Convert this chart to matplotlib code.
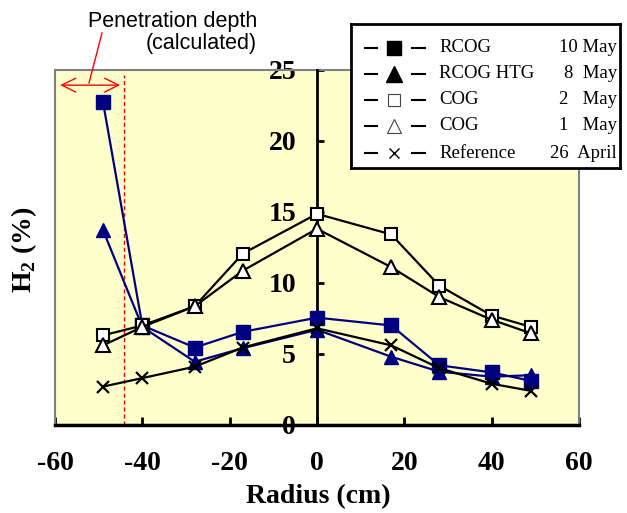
import matplotlib
matplotlib.use("Agg")
import matplotlib.pyplot as plt
from matplotlib.patches import Rectangle
from matplotlib.lines import Line2D

radius = [-49, -40, -28, -17, 0, 17, 28, 40, 49]
rcog = [22.7, 7.0, 5.45, 6.55, 7.55, 7.0, 4.2, 3.7, 3.1]
rcog_htg = [13.7, 6.9, 4.45, 5.4, 6.7, 4.8, 3.75, 3.4, 3.5]
cog_2may = [6.3, 7.0, 8.35, 12.05, 14.85, 13.4, 9.8, 7.7, 6.9]
cog_1may = [5.6, 6.9, 8.35, 10.85, 13.8, 11.1, 9.0, 7.4, 6.45]
reference = [2.7, 3.3, 4.1, 5.45, 6.8, 5.6, 4.0, 2.9, 2.4]

legend_names = ["RCOG", "RCOG HTG", "COG", "COG", "Reference"]
legend_dates = ["10 May", "8  May", "2   May", "1   May", "26  April"]
xticks = [-60, -40, -20, 0, 20, 40, 60]
yticks = [0, 5, 10, 15, 20, 25]
penetration_x = -44.2

W, H = 627, 513
fig = plt.figure(figsize=(W / 100, H / 100), dpi=100)
fig.patch.set_facecolor("white")

def fx(px):
    return px / W

def fy(py):
    return 1 - py / H

L, R, T, B = 55, 579, 69.5, 425
ax = fig.add_axes([fx(L), fy(B), fx(R) - fx(L), fy(T) - fy(B)])
ax.set_facecolor("#FFFFCC")
ax.set_xlim(-60, 60)
ax.set_ylim(0, 25)

navy = "#000080"
ax.plot(radius, rcog, color=navy, lw=1.6, marker="s", ms=9.5, mfc=navy, mec=navy, zorder=3)
ax.plot(radius, rcog_htg, color=navy, lw=1.6, marker="^", ms=10.5, mfc=navy, mec=navy, zorder=3)
ax.plot(radius, cog_2may, color="black", lw=1.6, marker="s", ms=8, mfc="white", mec="black", mew=1.5, zorder=4)
ax.plot(radius, cog_1may, color="black", lw=1.6, marker="^", ms=9.5, mfc="white", mec="black", mew=1.5, zorder=4)
ax.plot(radius, reference, color="black", lw=1.6, marker="x", ms=9, mec="black", mew=1.6, zorder=5)

# frame
for s in ["top", "right"]:
    ax.spines[s].set_visible(False)
ax.add_patch(Rectangle((0, 0), 1, 1, transform=ax.transAxes, fill=False,
                       edgecolor="#808080", lw=1.5, clip_on=False, zorder=2.4))
ax.spines["left"].set_position(("data", 0))
ax.spines["left"].set_linewidth(2)
ax.spines["left"].set_color("black")
ax.spines["bottom"].set_linewidth(2.5)
ax.spines["bottom"].set_color("black")

ax.set_xticks(xticks)
ax.set_yticks(yticks)
ax.set_xticklabels([str(v) for v in xticks])
ax.set_yticklabels([str(v) for v in yticks])
ax.tick_params(axis="x", direction="in", length=6, width=2, pad=19)
ax.tick_params(axis="y", direction="in", length=5, width=2, pad=15)
for lab in ax.get_xticklabels() + ax.get_yticklabels():
    lab.set_fontfamily("Liberation Serif")
    lab.set_fontweight("bold")
    lab.set_fontsize(20)

# penetration depth annotation
ax.plot([penetration_x, penetration_x], [0, 24.6], color="red", lw=1, dashes=(3, 2), zorder=2)
ax.annotate("", xy=(-58.8, 23.9), xytext=(penetration_x - 0.9, 23.9),
            arrowprops=dict(arrowstyle="<->,head_length=0.5,head_width=0.25",
                            color="red", lw=1, mutation_scale=20, shrinkA=0, shrinkB=0))
fig.add_artist(Line2D([fx(89), fx(102)], [fy(83), fy(33)], color="red", lw=1))
fig.text(fx(257), fy(11), "Penetration depth\n(calculated)", ha="right", va="top",
         fontfamily="Liberation Sans", fontsize=15.5, linespacing=1.05, multialignment="right")

# axis labels
fig.text(fx(318), fy(497), "Radius (cm)", ha="center", va="center",
         fontfamily="Liberation Serif", fontweight="bold", fontsize=20)
fig.text(fx(24), fy(250), r"H$_\mathregular{2}$ (%)", ha="center", va="center", rotation=90,
         fontfamily="Liberation Serif", fontweight="bold", fontsize=20)

# legend box
lx0, lx1, ly0, ly1 = 350.7, 620, 24, 168
lax = fig.add_axes([fx(lx0), fy(ly1), fx(lx1) - fx(lx0), fy(ly0) - fy(ly1)])
lax.set_xlim(lx0, lx1)
lax.set_ylim(ly1, ly0)
lax.set_xticks([])
lax.set_yticks([])
lax.set_facecolor("white")
for s in lax.spines.values():
    s.set_linewidth(2)
    s.set_color("black")

styles = [
    dict(marker="s", ms=9.5, mfc="black", mec="black"),
    dict(marker="^", ms=11, mfc="black", mec="black"),
    dict(marker="s", ms=8.5, mfc="white", mec="#444444", mew=0.8),
    dict(marker="^", ms=10.5, mfc="white", mec="#444444", mew=0.8),
    dict(marker="x", ms=7, mec="black", mew=1),
]
rows = [48, 74, 100, 126, 153]
for yy, st, name, date in zip(rows, styles, legend_names, legend_dates):
    lax.plot([365, 377], [yy, yy], color="black", lw=1.5)
    lax.plot([412, 425], [yy, yy], color="black", lw=1.5)
    lax.plot([394], [yy], linestyle="none", **st)
    lax.text(439, yy, name, ha="left", va="center", fontfamily="Liberation Serif", fontsize=13.5)
    lax.text(617, yy, date, ha="right", va="center", fontfamily="Liberation Serif", fontsize=13.5)

fig.savefig("out.png", dpi=100)
